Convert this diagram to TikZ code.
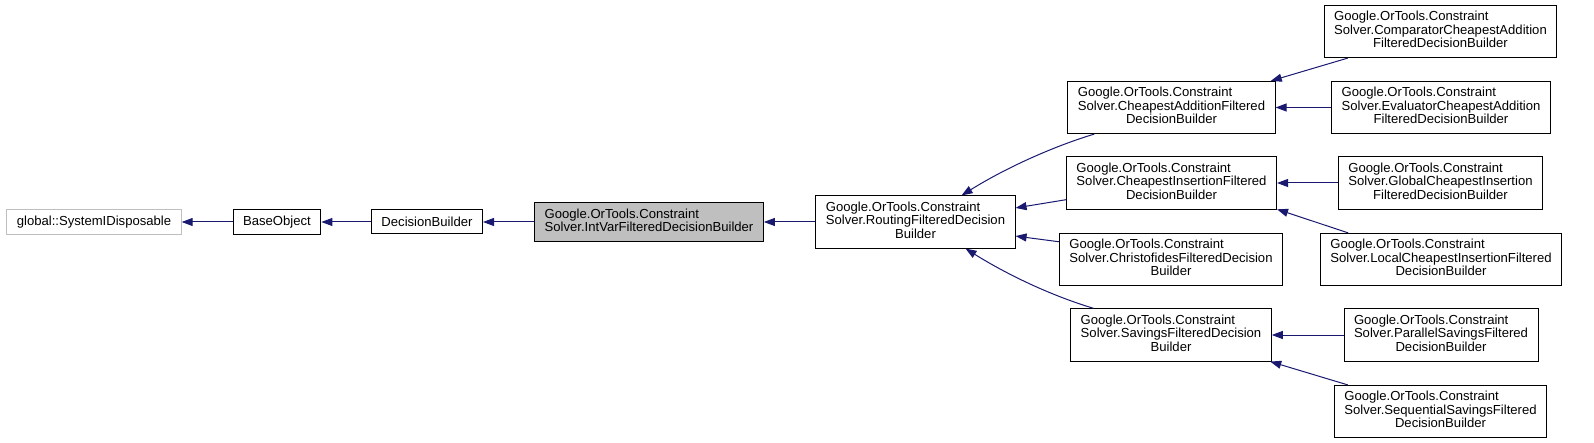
\documentclass[tikz,border=0pt]{standalone}
\usepackage{fontspec}
\setmainfont{Liberation Sans}
\usepackage{tikz}
\usetikzlibrary{arrows.meta}

\definecolor{edgeblue}{HTML}{191970}
\definecolor{boxgray}{HTML}{BFBFBF}
\newcommand{\clsname}[3]{\begin{tabular}{@{}l@{}}#1\\#2\\\multicolumn{1}{@{}c@{}}{#3}\end{tabular}}

\begin{document}
\begin{tikzpicture}
[
x=1pt, y=-1pt,
klass/.style={rectangle, draw=black, line width=1pt, inner xsep=10pt, inner ysep=6pt, minimum height=24pt, font=\fontsize{13.1}{13}\selectfont},
extern/.style={klass, draw=boxgray},
focus/.style={klass, fill=boxgray},
inherit/.style={draw=edgeblue, line width=1pt, -{Triangle[length=11pt,width=8pt]}}
]
\useasboundingbox (0,0) rectangle (1594,443);

%Nodes
\node[extern]   (sysdisp)   at (94,222)     {global::SystemIDisposable};
\node[klass]    (baseobj)   at (277,222)    {BaseObject};
\node[klass]    (decbuild)  at (427,222)    {DecisionBuilder};
\node[focus]    (intvar)    at (649,222)    {\begin{tabular}{@{}l@{}}Google.OrTools.Constraint\\Solver.IntVarFilteredDecisionBuilder\end{tabular}};
\node[klass]    (routing)   at (915.5,222)  {\clsname{Google.OrTools.Constraint}{Solver.RoutingFilteredDecision}{Builder}};

\node[klass]    (cheapadd)  at (1171.5,107.5) {\clsname{Google.OrTools.Constraint}{Solver.CheapestAdditionFiltered}{DecisionBuilder}};
\node[klass]    (cheapins)  at (1171.5,183)   {\clsname{Google.OrTools.Constraint}{Solver.CheapestInsertionFiltered}{DecisionBuilder}};
\node[klass]    (christo)   at (1171,259.5)   {\clsname{Google.OrTools.Constraint}{Solver.ChristofidesFilteredDecision}{Builder}};
\node[klass]    (savings)   at (1171,335)     {\clsname{Google.OrTools.Constraint}{Solver.SavingsFilteredDecision}{Builder}};

\node[klass]    (comparat)  at (1440.5,31.5)  {\clsname{Google.OrTools.Constraint}{Solver.ComparatorCheapestAddition}{FilteredDecisionBuilder}};
\node[klass]    (evaluat)   at (1441,107.5)   {\clsname{Google.OrTools.Constraint}{Solver.EvaluatorCheapestAddition}{FilteredDecisionBuilder}};
\node[klass]    (globins)   at (1440.5,183)   {\clsname{Google.OrTools.Constraint}{Solver.GlobalCheapestInsertion}{FilteredDecisionBuilder}};
\node[klass]    (localins)  at (1441,259.5)   {\clsname{Google.OrTools.Constraint}{Solver.LocalCheapestInsertionFiltered}{DecisionBuilder}};
\node[klass]    (parsav)    at (1441,335)     {\clsname{Google.OrTools.Constraint}{Solver.ParallelSavingsFiltered}{DecisionBuilder}};
\node[klass]    (seqsav)    at (1440.5,411.5) {\clsname{Google.OrTools.Constraint}{Solver.SequentialSavingsFiltered}{DecisionBuilder}};

%Lines
\draw[inherit] (baseobj.west) -- (sysdisp.east);
\draw[inherit] (decbuild.west) -- (baseobj.east);
\draw[inherit] (intvar.west) -- (decbuild.east);
\draw[inherit] (routing.west) -- (intvar.east);

\draw[inherit] (cheapadd.199) .. controls +(-40,12) and +(45,-28) .. (routing.30);
\draw[inherit] (cheapins.189) -- (routing.8);
\draw[inherit] (christo.171) -- (routing.-8);
\draw[inherit] (savings.161) .. controls +(-40,-12) and +(45,28) .. (routing.-28);

\draw[inherit] (comparat.196) -- (cheapadd.15);
\draw[inherit] (evaluat.west) -- (cheapadd.east);
\draw[inherit] (globins.west) -- (cheapins.east);
\draw[inherit] (localins.164) -- (cheapins.-14);
\draw[inherit] (parsav.west) -- (savings.east);
\draw[inherit] (seqsav.164) -- (savings.-15);
\end{tikzpicture}
\end{document}
